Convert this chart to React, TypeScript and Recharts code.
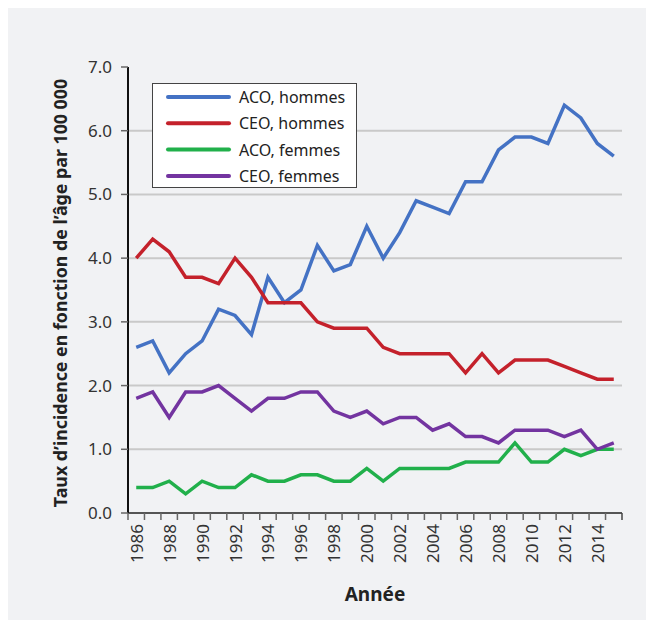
import React from 'react';
import { LineChart, Line, XAxis, YAxis, CartesianGrid, Legend, Label } from 'recharts';

const years = [1986, 1987, 1988, 1989, 1990, 1991, 1992, 1993, 1994, 1995, 1996, 1997, 1998, 1999, 2000, 2001, 2002, 2003, 2004, 2005, 2006, 2007, 2008, 2009, 2010, 2011, 2012, 2013, 2014, 2015];
const acoHommes = [2.6, 2.7, 2.2, 2.5, 2.7, 3.2, 3.1, 2.8, 3.7, 3.3, 3.5, 4.2, 3.8, 3.9, 4.5, 4.0, 4.4, 4.9, 4.8, 4.7, 5.2, 5.2, 5.7, 5.9, 5.9, 5.8, 6.4, 6.2, 5.8, 5.6];
const ceoHommes = [4.0, 4.3, 4.1, 3.7, 3.7, 3.6, 4.0, 3.7, 3.3, 3.3, 3.3, 3.0, 2.9, 2.9, 2.9, 2.6, 2.5, 2.5, 2.5, 2.5, 2.2, 2.5, 2.2, 2.4, 2.4, 2.4, 2.3, 2.2, 2.1, 2.1];
const acoFemmes = [0.4, 0.4, 0.5, 0.3, 0.5, 0.4, 0.4, 0.6, 0.5, 0.5, 0.6, 0.6, 0.5, 0.5, 0.7, 0.5, 0.7, 0.7, 0.7, 0.7, 0.8, 0.8, 0.8, 1.1, 0.8, 0.8, 1.0, 0.9, 1.0, 1.0];
const ceoFemmes = [1.8, 1.9, 1.5, 1.9, 1.9, 2.0, 1.8, 1.6, 1.8, 1.8, 1.9, 1.9, 1.6, 1.5, 1.6, 1.4, 1.5, 1.5, 1.3, 1.4, 1.2, 1.2, 1.1, 1.3, 1.3, 1.3, 1.2, 1.3, 1.0, 1.1];
const yTicks = [0, 1, 2, 3, 4, 5, 6, 7];
const gridTicks = [1, 2, 3, 4, 5, 6];
const seriesNames = ['ACO, hommes', 'CEO, hommes', 'ACO, femmes', 'CEO, femmes'];
const seriesKeys = ['acoH', 'ceoH', 'acoF', 'ceoF'];
const seriesColors = ['#4472C4', '#C4212B', '#21B04B', '#7334A0'];
const yTitle = 'Taux d’incidence en fonction de l’âge par 100 000';
const xTitle = 'Année';

const data = years.map((y, i) => ({
  year: y,
  acoH: acoHommes[i],
  ceoH: ceoHommes[i],
  acoF: acoFemmes[i],
  ceoF: ceoFemmes[i],
}));

const W = 646;
const H = 612;
const M = { top: 59, right: 32, left: 0, bottom: 37 };
const Y_AXIS_W = 120;
const X_AXIS_H = 70;
const PLOT_W = W - M.left - M.right - Y_AXIS_W;
const BW = PLOT_W / years.length;
const FONT = '"Noto Sans", "Open Sans", sans-serif';

const XTick = (props: any) => {
  const { x, y, payload } = props;
  const v = payload.value;
  const isLast = v === years[years.length - 1];
  const ty = y + 11;
  return (
    <g>
      <line x1={x - BW / 2} x2={x - BW / 2} y1={y} y2={y + 7} stroke="#666" strokeWidth={1.5} />
      {isLast && <line x1={x + BW / 2} x2={x + BW / 2} y1={y} y2={y + 7} stroke="#444" strokeWidth={1.5} />}
      {v % 2 === 0 && (
        <text
          x={x}
          y={ty}
          transform={`rotate(-90 ${x} ${ty})`}
          textAnchor="end"
          dominantBaseline="central"
          fontFamily={FONT}
          fontSize={17}
          fill="#333"
        >
          {v}
        </text>
      )}
    </g>
  );
};

const LegendBox = (props: any) => {
  const payload = [...(props.payload || [])].sort(
    (a: any, b: any) => seriesNames.indexOf(a.value) - seriesNames.indexOf(b.value)
  );
  return (
    <div
      style={{
        width: 203,
        height: 103,
        border: '1px solid #444',
        background: '#fff',
        boxSizing: 'content-box',
        position: 'relative',
      }}
    >
      <svg width={203} height={103} style={{ display: 'block' }}>
        {payload.map((p: any, i: number) => {
          const cy = 13 + i * 26.3;
          return (
            <g key={i}>
              <line x1={15} x2={76} y1={cy} y2={cy} stroke={p.color} strokeWidth={4} strokeLinecap="round" />
              <text x={86} y={cy} dominantBaseline="central" fontFamily={FONT} fontSize={16} fill="#222">
                {p.value}
              </text>
            </g>
          );
        })}
      </svg>
    </div>
  );
};

export default function App() {
  return (
    <div style={{ width: W, height: H, background: '#F1F2F4' }}>
      <LineChart width={W} height={H} data={data} margin={M}>
        <CartesianGrid horizontal vertical={false} stroke="#C9C9C9" strokeWidth={2} horizontalValues={gridTicks} />
        <XAxis
          dataKey="year"
          type="category"
          interval={0}
          height={X_AXIS_H}
          padding={{ left: BW / 2, right: BW / 2 }}
          tickLine={false}
          tickSize={0}
          tickMargin={0}
          tick={<XTick />}
          axisLine={{ stroke: '#555', strokeWidth: 2 }}
        >
          <Label
            content={() => (
              <text x={367} y={586} textAnchor="middle" dominantBaseline="central" fontFamily={FONT} fontSize={19} fontWeight={700} fill="#222">
                {xTitle}
              </text>
            )}
          />
        </XAxis>
        <XAxis xAxisId="top" dataKey="year" orientation="top" height={0} tick={false} tickLine={false} axisLine={{ stroke: '#333', strokeWidth: 1.5 }} />
        <YAxis
          domain={[0, 7]}
          ticks={yTicks}
          interval={0}
          width={Y_AXIS_W}
          tickFormatter={(v: number) => v.toFixed(1)}
          tickSize={7}
          tickMargin={9}
          tickLine={{ stroke: '#666', strokeWidth: 1.5 }}
          axisLine={{ stroke: '#111', strokeWidth: 2 }}
          tick={{ fontFamily: FONT, fontSize: 17, fill: '#333' }}
        >
          <Label
            content={() => (
              <text x={52} y={285} transform="rotate(-90 52 285)" textAnchor="middle" dominantBaseline="central" fontFamily={FONT} fontSize={17.8} fontWeight={700} fill="#222">
                {yTitle}
              </text>
            )}
          />
        </YAxis>
        <YAxis yAxisId="right" orientation="right" width={0} domain={[0, 7]} tick={false} tickLine={false} axisLine={{ stroke: '#333', strokeWidth: 1.5 }} />
        <Legend
          layout="horizontal"
          verticalAlign="middle"
          align="center"
          itemSorter={null as any}
          content={<LegendBox />}
          wrapperStyle={{ position: 'absolute', top: 75, left: 144, width: 205, height: 105 }}
        />
        {seriesKeys.map((k, i) => (
          <Line
            key={k}
            type="linear"
            dataKey={k}
            name={seriesNames[i]}
            stroke={seriesColors[i]}
            strokeWidth={3.5}
            dot={false}
            activeDot={false}
            isAnimationActive={false}
          />
        ))}
      </LineChart>
    </div>
  );
}
